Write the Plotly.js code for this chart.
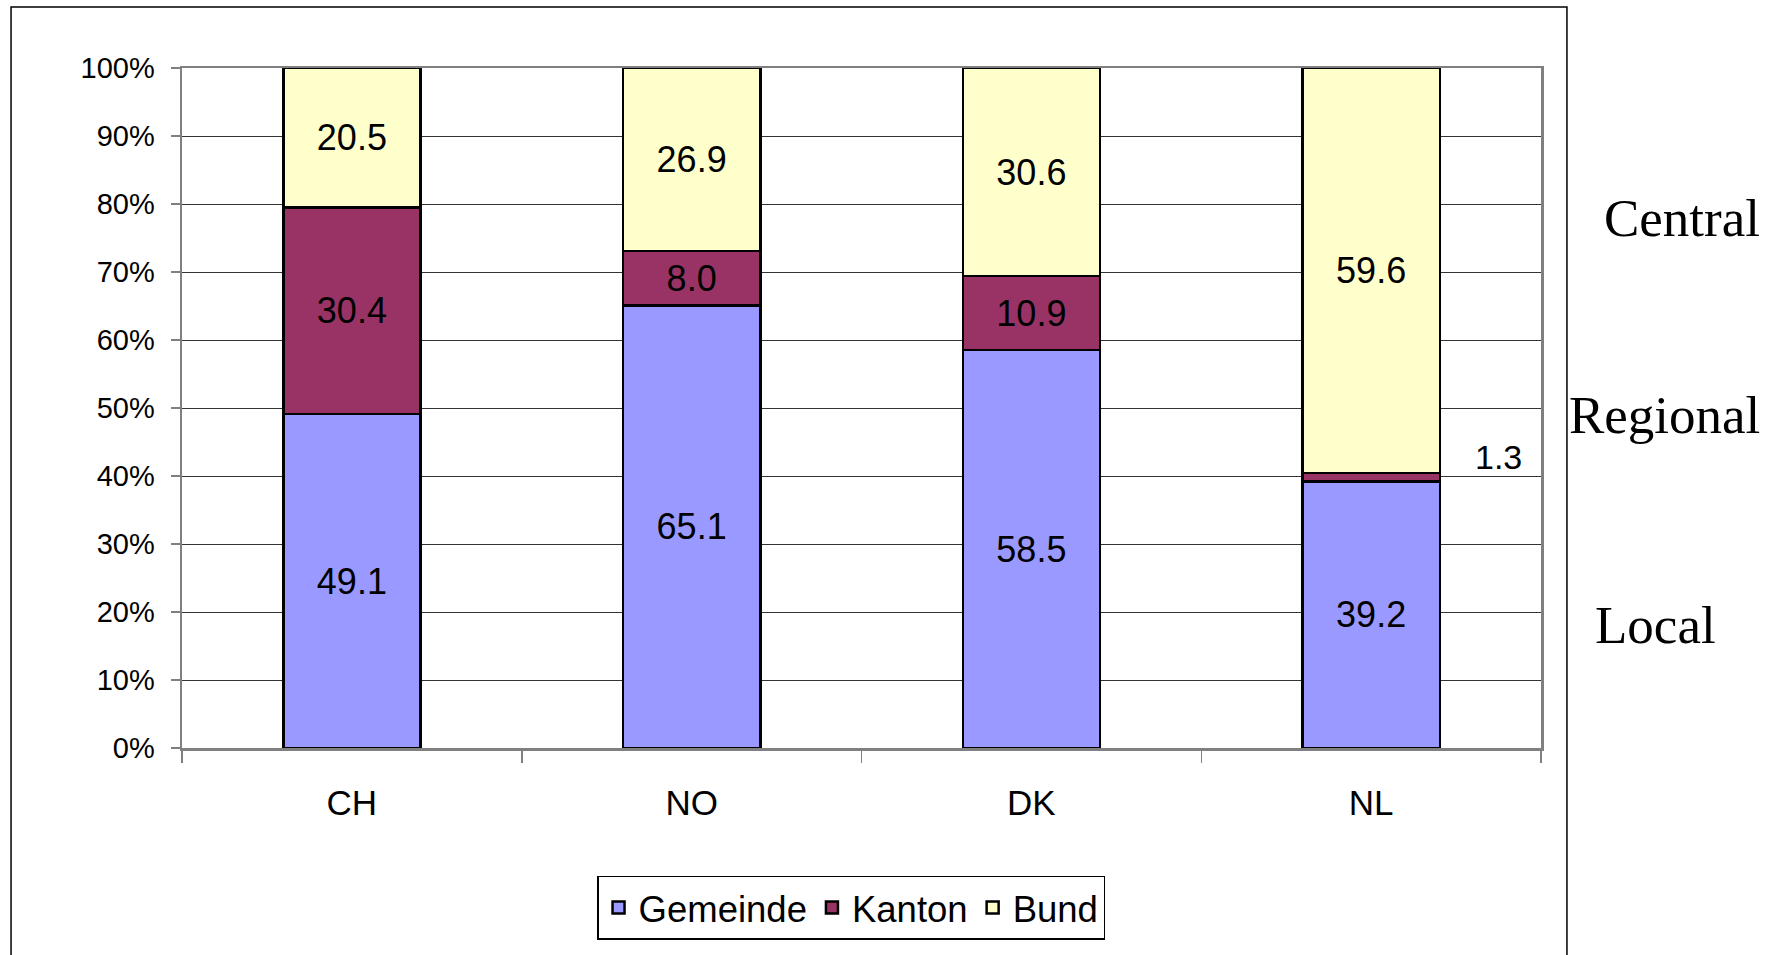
<!DOCTYPE html>
<html>
<head>
<meta charset="utf-8">
<script src="https://cdn.plot.ly/plotly-3.0.1.min.js"></script>
<style>
html, body { margin: 0; padding: 0; background: #ffffff; }
#chart { width: 1780px; height: 955px; }
</style>
</head>
<body>
<div id="chart"></div>
<script>
const categories = ['CH', 'NO', 'DK', 'NL'];
const gemeinde = [49.1, 65.1, 58.5, 39.2];
const kanton = [30.4, 8.0, 10.9, 1.3];
const bund = [20.5, 26.9, 30.6, 59.6];
const seriesNames = ['Gemeinde', 'Kanton', 'Bund'];
const yTickVals = [0, 10, 20, 30, 40, 50, 60, 70, 80, 90, 100];
const yTickText = ['0%', '10%', '20%', '30%', '40%', '50%', '60%', '70%', '80%', '90%', '100%'];
const sideLabels = ['Central', 'Regional', 'Local'];

const colors = ['#9999FF', '#993366', '#FFFFCC'];
const seriesVals = [gemeinde, kanton, bund];

// labels that sit outside the bar (segment too thin)
const outsideIdx = {1: [3]};

const traces = seriesVals.map((vals, s) => ({
  type: 'bar',
  name: seriesNames[s],
  x: categories,
  y: vals,
  text: vals.map((v, i) => (outsideIdx[s] && outsideIdx[s].includes(i)) ? '' : v.toFixed(1)),
  textposition: 'inside',
  insidetextanchor: 'middle',
  textangle: 0,
  constraintext: 'none',
  textfont: {family: 'Liberation Sans, Arial, sans-serif', size: 36, color: '#000000'},
  marker: {color: colors[s], line: {color: '#000000', width: 2.5}},
  hoverinfo: 'x+y+name'
}));

// annotation for the thin NL Kanton segment
const annotations = [];
Object.keys(outsideIdx).forEach(sk => {
  const s = +sk;
  outsideIdx[s].forEach(i => {
    let base = 0;
    for (let k = 0; k < s; k++) base += seriesVals[k][i];
    let total = 0;
    for (let k = 0; k < seriesVals.length; k++) total += seriesVals[k][i];
    const mid = (base + seriesVals[s][i] / 2) / total * 100;
    annotations.push({
      x: categories[i], y: mid, xref: 'x', yref: 'y',
      text: seriesVals[s][i].toFixed(1), showarrow: false,
      xshift: 127, yshift: 20,
      font: {family: 'Liberation Sans, Arial, sans-serif', size: 34, color: '#000000'}
    });
  });
});

const sidePos = [[1.1038, 0.779], [1.0912, 0.49], [1.0846, 0.181]];
sideLabels.forEach((t, k) => {
  annotations.push({
    x: sidePos[k][0], y: sidePos[k][1], xref: 'paper', yref: 'paper',
    text: t, showarrow: false, xanchor: 'center', yanchor: 'middle',
    font: {family: 'Liberation Serif, Times New Roman, serif', size: 53, color: '#000000'}
  });
});

const layout = {
  width: 1780,
  height: 955,
  margin: {l: 182, r: 239, t: 68, b: 207, pad: 0},
  paper_bgcolor: '#ffffff',
  plot_bgcolor: '#ffffff',
  barmode: 'stack',
  barnorm: 'percent',
  bargap: 0.596,
  showlegend: true,
  legend: {
    orientation: 'h',
    x: 0.4923, xanchor: 'center',
    y: -0.188, yanchor: 'top',
    traceorder: 'normal',
    bordercolor: '#000000', borderwidth: 1.5,
    bgcolor: '#ffffff',
    font: {family: 'Liberation Sans, Arial, sans-serif', size: 36.5, color: '#000000'},
    itemwidth: 30
  },
  xaxis: {
    type: 'category',
    showgrid: false,
    showline: true, linecolor: '#808080', linewidth: 2.5,
    mirror: true,
    ticks: 'outside', tickson: 'boundaries', ticklen: 12, tickcolor: '#808080', tickwidth: 1.5,
    tickfont: {family: 'Liberation Sans, Arial, sans-serif', size: 35, color: '#000000'},
    ticklabelstandoff: 22,
    zeroline: false,
    fixedrange: true
  },
  yaxis: {
    range: [0, 100],
    tickvals: yTickVals,
    ticktext: yTickText,
    showgrid: true, gridcolor: '#333333', gridwidth: 1,
    showline: true, linecolor: '#808080', linewidth: 2.5,
    mirror: true,
    ticks: 'outside', ticklen: 9, tickcolor: '#808080', tickwidth: 1.5,
    tickfont: {family: 'Liberation Sans, Arial, sans-serif', size: 29, color: '#000000'},
    ticklabelstandoff: 10,
    zeroline: false,
    fixedrange: true
  },
  shapes: [{
    type: 'rect', xref: 'paper', yref: 'paper',
    x0: -0.1258, x1: 1.0191, y0: -0.33, y1: 1.0897,
    line: {color: '#000000', width: 1.5},
    fillcolor: 'rgba(0,0,0,0)',
    layer: 'below'
  }],
  annotations: annotations
};

Plotly.newPlot('chart', traces, layout, {displayModeBar: false, staticPlot: true});
</script>
</body>
</html>
